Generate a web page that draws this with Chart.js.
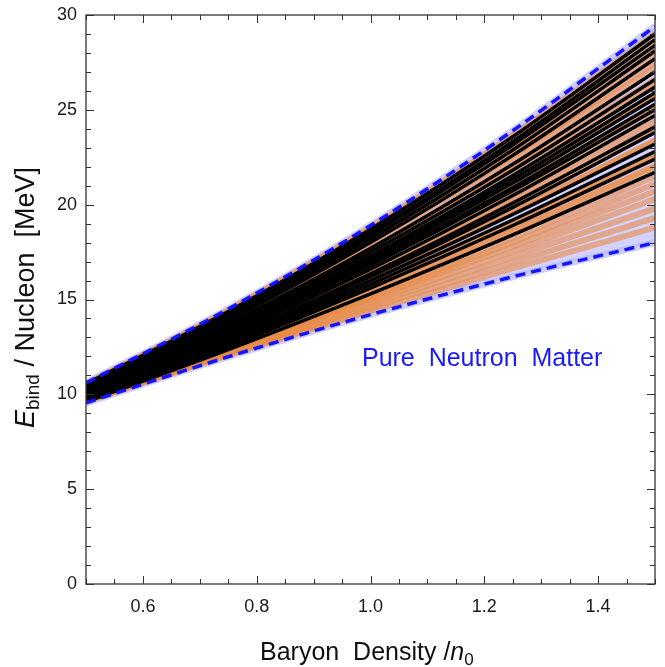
<!DOCTYPE html>
<html>
<head>
<meta charset="utf-8">
<script src="https://cdn.jsdelivr.net/npm/chart.js@4.4.0/dist/chart.umd.min.js"></script>
<style>
  html, body { margin: 0; padding: 0; background: #fff; }
</style>
</head>
<body>
<canvas id="pnmChart" width="665" height="667"></canvas>
<script>
// Energía de enlace por nucleón en materia de neutrones pura

// densidades donde se leyeron las curvas (en unidades de n0)
const densities = [0.5, 0.75, 1.0, 1.25, 1.5];

// límites de la banda (líneas azules discontinuas)
const upperBound = [10.6, 14.5, 18.9, 23.9, 29.4];
const lowerBound = [9.55, 11.98, 14.2, 16.2, 18.0];

// curvas negras
const blackCurves = [
    [10.55, 14.36, 18.7, 23.58, 29.0],
    [10.5, 14.23, 18.5, 23.33, 28.7],
    [10.4, 14.15, 18.4, 23.15, 28.4],
    [10.5, 14.08, 18.2, 22.88, 28.1],
    [10.3, 13.9, 18.0, 22.6, 27.7],
    [10.2, 13.73, 17.7, 22.13, 27.0],
    [10.25, 13.64, 17.5, 21.82, 26.6],
    [10.1, 13.49, 17.3, 21.54, 26.2],
    [10.15, 13.47, 17.2, 21.34, 25.9],
    [10.0, 13.34, 17.05, 21.14, 25.6],
    [10.05, 13.28, 16.9, 20.91, 25.3],
    [9.95, 13.21, 16.8, 20.73, 25.0],
    [9.9, 13.08, 16.6, 20.48, 24.7],
    [9.8, 12.93, 16.35, 20.08, 24.1],
    [9.75, 12.83, 16.2, 19.86, 23.8],
    [9.7, 12.74, 16.0, 19.49, 23.2],
    [9.65, 12.62, 15.8, 19.19, 22.8],
    [9.6, 12.5, 15.6, 18.9, 22.4],
    [9.6, 12.36, 15.3, 18.41, 21.7]
];

// curvas naranjas (muestras de fondo)
const orangeCurves = [
    [9.65, 12.07, 14.4, 16.64, 18.8],
    [9.7, 12.14, 14.55, 16.94, 19.3],
    [9.6, 12.15, 14.7, 17.25, 19.8],
    [9.75, 12.26, 14.85, 17.53, 20.3],
    [9.7, 12.3, 15.0, 17.8, 20.7],
    [9.8, 12.36, 15.1, 18.01, 21.1],
    [9.75, 12.37, 15.2, 18.24, 21.5],
    [9.85, 12.53, 15.45, 18.61, 22.0],
    [9.65, 12.5, 15.52, 18.7, 22.05],
    [9.9, 12.66, 15.7, 19.01, 22.6],
    [9.7, 12.66, 15.79, 19.11, 22.6],
    [9.8, 12.87, 16.15, 19.64, 23.35],
    [9.95, 12.88, 16.1, 19.61, 23.4],
    [9.9, 13.05, 16.44, 20.08, 23.95],
    [10.0, 13.1, 16.5, 20.2, 24.2],
    [9.95, 13.21, 16.73, 20.51, 24.55],
    [10.1, 13.34, 16.9, 20.79, 25.0],
    [10.0, 13.38, 17.03, 20.95, 25.15],
    [10.1, 13.56, 17.32, 21.39, 25.75],
    [10.2, 13.58, 17.3, 21.38, 25.8],
    [10.2, 13.75, 17.63, 21.85, 26.4],
    [10.3, 13.81, 17.7, 21.96, 26.6],
    [10.3, 13.98, 18.02, 22.43, 27.2],
    [10.4, 14.04, 18.1, 22.59, 27.5],
    [10.4, 14.17, 18.34, 22.9, 27.85],
    [10.5, 14.28, 18.5, 23.18, 28.3],
    [10.45, 14.36, 18.68, 23.41, 28.55],
    [10.55, 14.43, 18.8, 23.66, 29.0]
];

const xTickLabels = ['0.6', '0.8', '1.0', '1.2', '1.4'];
const yTickLabels = ['0', '5', '10', '15', '20', '25', '30'];

const FONT = '"Liberation Sans", Arial, Helvetica, sans-serif';

function toPoints(values) {
    return values.map((v, i) => ({ x: densities[i], y: v }));
}

function curveDataset(values, color, width) {
    return {
        data: toPoints(values),
        borderColor: color,
        borderWidth: width,
        pointRadius: 0,
        cubicInterpolationMode: 'monotone',
        fill: false
    };
}

// orden: el primer dataset queda encima
const datasets = [];
datasets.push(Object.assign(curveDataset(upperBound, '#1414ff', 3.5), { borderDash: [10, 6] }));
datasets.push(Object.assign(curveDataset(lowerBound, '#1414ff', 3.5), { borderDash: [10, 6] }));
blackCurves.forEach(c => datasets.push(curveDataset(c, '#000', 3.5)));
orangeCurves.forEach(c => datasets.push(curveDataset(c, 'rgba(234, 138, 66, 0.6)', 6)));
datasets.push(Object.assign(curveDataset(upperBound, 'rgba(185, 185, 255, 0.7)', 7), {
    fill: '+1',
    backgroundColor: 'rgba(200, 200, 255, 0.8)'
}));
datasets.push(curveDataset(lowerBound, 'rgba(185, 185, 255, 0.7)', 7));

// marco, marcas interiores y títulos de ejes
const framePlugin = {
    id: 'frame',
    afterDatasetsDraw(chart) {
        const { ctx, chartArea: a, scales } = chart;
        const xs = scales.x, ys = scales.y;
        ctx.save();
        ctx.strokeStyle = '#333';
        ctx.lineWidth = 1;
        const seg = (x1, y1, x2, y2) => {
            ctx.beginPath(); ctx.moveTo(x1, y1); ctx.lineTo(x2, y2); ctx.stroke();
        };
        xs.ticks.forEach(t => {
            const px = Math.round(xs.getPixelForValue(t.value)) + 0.5;
            const len = t.label ? 8 : 5;
            seg(px, a.bottom, px, a.bottom - len);
            seg(px, a.top, px, a.top + len);
        });
        ys.ticks.forEach(t => {
            const py = Math.round(ys.getPixelForValue(t.value)) + 0.5;
            const len = t.label ? 8 : 5;
            seg(a.left, py, a.left + len, py);
            seg(a.right, py, a.right - len, py);
        });
        ctx.lineWidth = 1.3;
        ctx.strokeRect(a.left, a.top, a.right - a.left, a.bottom - a.top);

        // texto de la banda
        ctx.fillStyle = '#1a1aff';
        ctx.font = '25px ' + FONT;
        ctx.textBaseline = 'alphabetic';
        ctx.fillText('Pure  Neutron  Matter', xs.getPixelForValue(0.985), ys.getPixelForValue(11.5));
        ctx.restore();
    },
    afterDraw(chart) {
        const ctx = chart.ctx;
        ctx.save();
        ctx.fillStyle = '#111';
        ctx.textBaseline = 'alphabetic';

        // eje x
        let x = 260;
        const by = 660;
        ctx.font = '25px ' + FONT;
        ctx.fillText('Baryon  Density /', x, by);
        x += ctx.measureText('Baryon  Density /').width;
        ctx.font = 'italic 25px ' + FONT;
        ctx.fillText('n', x, by);
        x += ctx.measureText('n').width;
        ctx.font = '17px ' + FONT;
        ctx.fillText('0', x, by + 5);

        // eje y
        ctx.translate(34, 428);
        ctx.rotate(-Math.PI / 2);
        let p = 0;
        ctx.font = 'italic 27px ' + FONT;
        ctx.fillText('E', p, 0);
        p += ctx.measureText('E').width;
        ctx.font = '19px ' + FONT;
        ctx.fillText('bind', p, 5);
        p += ctx.measureText('bind').width;
        ctx.font = '27px ' + FONT;
        ctx.fillText(' / Nucleon  [MeV]', p, 0);
        ctx.restore();
    }
};

new Chart(document.getElementById('pnmChart').getContext('2d'), {
    type: 'line',
    data: { datasets: datasets },
    options: {
        responsive: false,
        devicePixelRatio: 1,
        animation: false,
        events: [],
        layout: { padding: { top: 15, right: 10, left: 0, bottom: 0 } },
        plugins: {
            legend: { display: false },
            tooltip: { enabled: false },
            filler: { drawTime: 'beforeDatasetsDraw' }
        },
        scales: {
            x: {
                type: 'linear',
                min: 0.5,
                max: 1.5,
                grid: { display: false },
                border: { display: false },
                afterFit: s => { s.height = 83; },
                ticks: {
                    stepSize: 0.05,
                    autoSkip: false,
                    maxRotation: 0,
                    padding: 4,
                    color: '#1a1a1a',
                    font: { family: FONT, size: 18 },
                    callback: v => {
                        const lbl = v.toFixed(1);
                        return Math.round(v * 100) % 20 === 0 && xTickLabels.includes(lbl) ? lbl : '';
                    }
                }
            },
            y: {
                min: 0,
                max: 30,
                grid: { display: false },
                border: { display: false },
                afterFit: s => { s.width = 86; },
                ticks: {
                    stepSize: 1,
                    autoSkip: false,
                    padding: 1,
                    color: '#1a1a1a',
                    font: { family: FONT, size: 18 },
                    callback: v => yTickLabels.includes(String(v)) ? String(v) : ''
                }
            }
        }
    },
    plugins: [framePlugin]
});
</script>
</body>
</html>
